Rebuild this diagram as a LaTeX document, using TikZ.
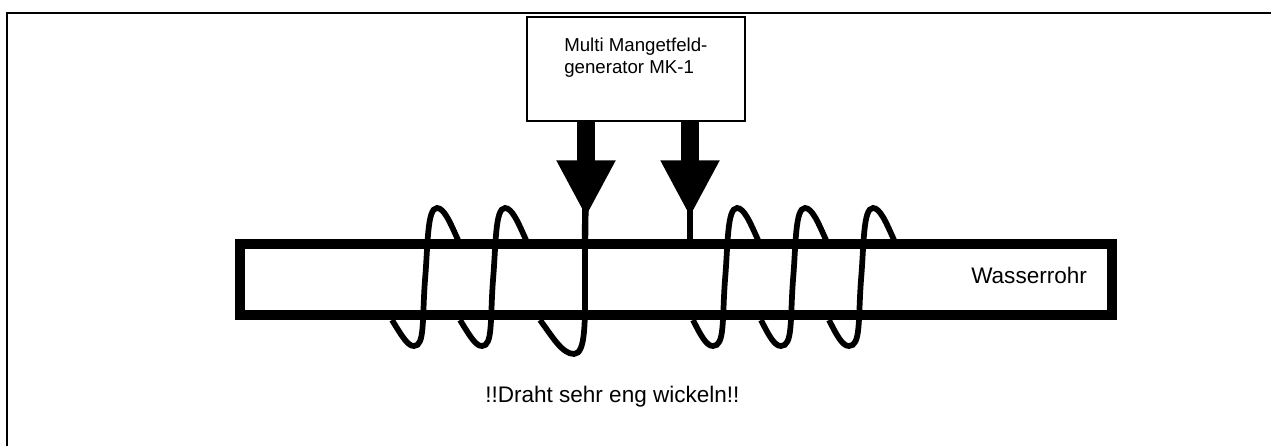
\documentclass[tikz,border=0pt]{standalone}
\usepackage{fontspec}
\setmainfont{Liberation Sans}
\usetikzlibrary{arrows.meta, positioning}

\tikzset{
  frame/.style = {draw=black, line width=1.5pt},
  generator/.style = {rectangle, draw=black, line width=1.5pt, fill=white, minimum width=163.5pt, minimum height=78pt, inner sep=0pt},
  rohr/.style = {draw=black, line width=7.5pt},
  wire/.style = {draw=black, line width=4.3pt},
  feed/.style = {draw=black, line width=13.5pt, -{Triangle[length=42.5pt, width=41.25pt]}},
  lead/.style = {draw=black, line width=4.8pt}
}

\begin{document}
\begin{tikzpicture}[x=0.75pt, y=-0.75pt]
  \useasboundingbox (0,0) rectangle (1271,446);

  % Frame
  \draw [frame] (7,446) -- (7,13) -- (1271,13);

  % Pipe
  \node (rohr) [rectangle, rohr, minimum width=654pt, minimum height=53.25pt, inner sep=0pt] at (676,279.5) {};
  \node (rohrtext) [font=\fontsize{16.9pt}{20pt}\selectfont, anchor=base west, inner sep=0pt] at (971,283) {Wasserrohr};

  % Generator
  \node (gen) [generator] at (636,69) {};
  \node (gentext) [font=\fontsize{14pt}{16.5pt}\selectfont, align=left, anchor=base west, inner sep=0pt] at (564,73) {Multi Mangetfeld-\\generator MK-1};

  % Coil, left
  \foreach \dx in {0,68} {
    \draw [wire] (392+\dx,320) .. controls (403+\dx,338) and (408+\dx,346) .. (414+\dx,346)
      .. controls (425+\dx,346) and (422+\dx,320) .. (425+\dx,280)
      .. controls (428+\dx,245) and (427+\dx,208) .. (437+\dx,208)
      .. controls (444+\dx,208) and (450+\dx,222) .. (458+\dx,240);
  }
  \coordinate (lefttop) at (585,239);
  \coordinate (rightend) at (690,239);
  \draw [wire] (540,320) .. controls (552,336) and (562,354) .. (574,354)
    .. controls (586,354) and (585,320) .. (585,280) -- (lefttop);

  % Coil, right
  \foreach \dx in {0,68,136} {
    \draw [wire] (693+\dx,320) .. controls (702+\dx,338) and (707+\dx,346) .. (713+\dx,346)
      .. controls (725+\dx,346) and (722+\dx,320) .. (725+\dx,280)
      .. controls (728+\dx,245) and (727+\dx,208) .. (737+\dx,208)
      .. controls (744+\dx,208) and (750+\dx,222) .. (758+\dx,240);
  }

  % Arrows
  \coordinate (feedl) at (586,121);
  \coordinate (feedr) at (690,121);
  \draw [lead] (lefttop) -- (585.5,200);
  \draw [lead] (rightend) -- (690,200);
  \draw [feed] (feedl) -- (586,217);
  \draw [feed] (feedr) -- (690,217);

  % Note
  \node (note) [font=\fontsize{16.9pt}{20pt}\selectfont, anchor=base west, inner sep=0pt] at (485,402) {!!Draht sehr eng wickeln!!};
\end{tikzpicture}
\end{document}
